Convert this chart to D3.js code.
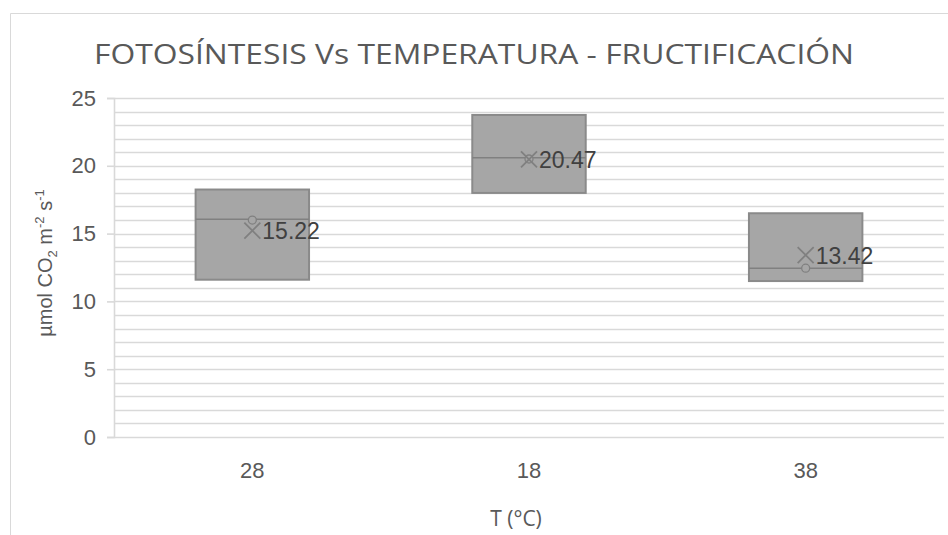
<!DOCTYPE html>
<html>
<head>
<meta charset="utf-8">
<script src="https://cdn.jsdelivr.net/npm/d3@7"></script>
<style>
  body { margin: 0; background: #fff; }
  svg { display: block; }
</style>
</head>
<body>
<div id="wrapper"></div>
<script>
// data
const categories = ["28", "18", "38"]
const q1Values = [11.6, 18.0, 11.5]
const q3Values = [18.25, 23.75, 16.5]
const medianValues = [16.05, 20.6, 12.45]
const pointValues = [16.0, 20.5, 12.45]
const meanValues = [15.22, 20.47, 13.42]
const yTicks = [0, 5, 10, 15, 20, 25]

const dataset = categories.map((c, i) => ({
  cat: c,
  q1: q1Values[i],
  q3: q3Values[i],
  median: medianValues[i],
  point: pointValues[i],
  mean: meanValues[i],
}))

function drawBoxChart(){
  let dimensions = {
    width: 948,
    height: 535,
    margin: { top: 98, right: 4, bottom: 98, left: 114 },
  }
  dimensions.boundedWidth = dimensions.width - dimensions.margin.left - dimensions.margin.right
  dimensions.boundedHeight = dimensions.height - dimensions.margin.top - dimensions.margin.bottom

  const wrapper = d3.select("#wrapper").append("svg")
    .attr("width", dimensions.width)
    .attr("height", dimensions.height)

  // chart frame (only the top and left edges fall inside the picture)
  wrapper.append("path")
    .attr("d", "M10.5,600 V13.5 H960")
    .attr("fill", "none")
    .attr("stroke", "#d9d9d9")
    .attr("stroke-width", 1)

  const bounds = wrapper.append("g")
    .attr("transform", `translate(${dimensions.margin.left},${dimensions.margin.top})`)

  const yScale = d3.scaleLinear()
    .domain([0, 25])
    .range([dimensions.boundedHeight, 0])

  const xScale = d3.scaleBand()
    .domain(categories)
    .range([0, dimensions.boundedWidth])

  // minor gridlines every unit
  bounds.append("g")
    .selectAll("line")
    .data(d3.range(1, 26))
    .join("line")
      .attr("x1", 0)
      .attr("x2", dimensions.boundedWidth)
      .attr("y1", d => Math.round(yScale(d)) + 0.5)
      .attr("y2", d => Math.round(yScale(d)) + 0.5)
      .attr("stroke", "#d9d9d9")
      .attr("stroke-width", 1.6)

  // y axis
  const yAxisGenerator = d3.axisLeft(yScale)
    .tickValues(yTicks)
    .tickSize(7)
    .tickPadding(11)
  const yAxis = bounds.append("g").call(yAxisGenerator)
  yAxis.select(".domain").attr("stroke", "#d9d9d9").attr("stroke-width", 1.6)
  yAxis.selectAll(".tick line").attr("stroke", "#d9d9d9").attr("stroke-width", 1.6)
  yAxis.selectAll(".tick text")
    .attr("fill", "#595959")
    .style("font-family", "'Liberation Sans', Arial, sans-serif")
    .style("font-size", "22px")

  // x axis (baseline at 0)
  bounds.append("line")
    .attr("x1", 0)
    .attr("x2", dimensions.boundedWidth)
    .attr("y1", yScale(0) + 0.5)
    .attr("y2", yScale(0) + 0.5)
    .attr("stroke", "#d9d9d9")
    .attr("stroke-width", 1.6)

  bounds.append("g")
    .selectAll("text")
    .data(categories)
    .join("text")
      .attr("x", d => xScale(d) + xScale.bandwidth() / 2)
      .attr("y", yScale(0) + 41)
      .attr("text-anchor", "middle")
      .attr("fill", "#595959")
      .style("font-family", "'Liberation Sans', Arial, sans-serif")
      .style("font-size", "22px")
      .text(d => d)

  // boxes
  const boxWidth = xScale.bandwidth() * 0.41
  const boxes = bounds.append("g")
    .selectAll("g")
    .data(dataset)
    .join("g")
      .attr("transform", d => `translate(${xScale(d.cat) + xScale.bandwidth() / 2},0)`)

  boxes.append("rect")
    .attr("x", -boxWidth / 2)
    .attr("width", boxWidth)
    .attr("y", d => yScale(d.q3))
    .attr("height", d => yScale(d.q1) - yScale(d.q3))
    .attr("fill", "#a6a6a6")
    .attr("stroke", "#8a8a8a")
    .attr("stroke-width", 2)

  boxes.append("line")
    .attr("x1", -boxWidth / 2)
    .attr("x2", boxWidth / 2)
    .attr("y1", d => yScale(d.median))
    .attr("y2", d => yScale(d.median))
    .attr("stroke", "#808080")
    .attr("stroke-width", 1.5)

  // inner points
  boxes.append("circle")
    .attr("cx", 0)
    .attr("cy", d => yScale(d.point))
    .attr("r", 4)
    .attr("fill", "#a6a6a6")
    .attr("stroke", "#808080")
    .attr("stroke-width", 1.3)

  // mean markers
  const m = 8
  boxes.append("path")
    .attr("d", d => {
      const y = yScale(d.mean)
      return `M${-m},${y - m} L${m},${y + m} M${-m},${y + m} L${m},${y - m}`
    })
    .attr("stroke", "#808080")
    .attr("stroke-width", 1.8)

  boxes.append("text")
    .attr("x", 10)
    .attr("y", d => yScale(d.mean) + 8.5)
    .attr("fill", "#404040")
    .style("font-family", "'Liberation Sans', Arial, sans-serif")
    .style("font-size", "23px")
    .text(d => d.mean.toFixed(2))

  // title
  wrapper.append("text")
    .attr("x", 474)
    .attr("y", 64)
    .attr("text-anchor", "middle")
    .attr("fill", "#595959")
    .style("font-family", "'Open Sans', sans-serif")
    .style("font-size", "28px")
    .attr("textLength", 760)
    .attr("lengthAdjust", "spacingAndGlyphs")
    .text("FOTOSÍNTESIS Vs TEMPERATURA - FRUCTIFICACIÓN")

  // axis titles
  wrapper.append("text")
    .attr("x", 516)
    .attr("y", 526)
    .attr("text-anchor", "middle")
    .attr("fill", "#595959")
    .style("font-family", "'Open Sans', sans-serif")
    .style("font-size", "21px")
    .text("T (°C)")

  const yTitle = wrapper.append("text")
    .attr("transform", "translate(52,263) rotate(-90)")
    .attr("text-anchor", "middle")
    .attr("fill", "#595959")
    .style("font-family", "'Liberation Sans', Arial, sans-serif")
    .style("font-size", "20px")
  yTitle.append("tspan").text("µmol CO")
  yTitle.append("tspan").attr("dy", 5).style("font-size", "13px").text("2")
  yTitle.append("tspan").attr("dy", -5).text(" m")
  yTitle.append("tspan").attr("dy", -8).style("font-size", "13px").text("-2")
  yTitle.append("tspan").attr("dy", 8).text(" s")
  yTitle.append("tspan").attr("dy", -8).style("font-size", "13px").text("-1")
}

drawBoxChart()
</script>
</body>
</html>
